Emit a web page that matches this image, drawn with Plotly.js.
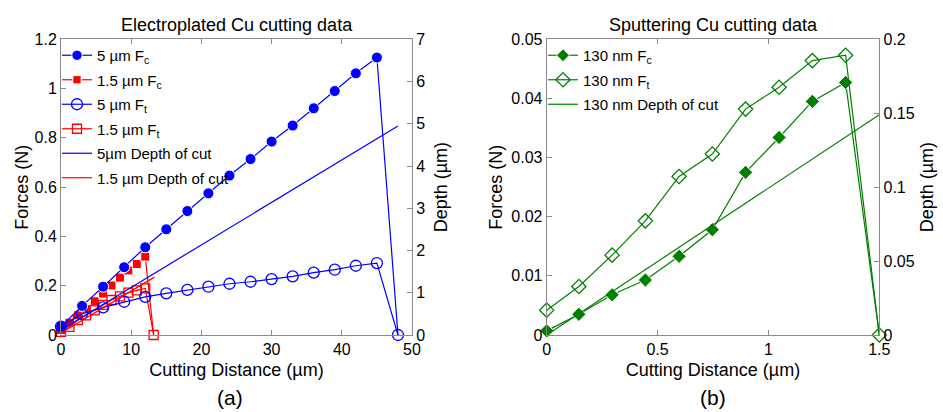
<!DOCTYPE html>
<html>
<head>
<meta charset="utf-8">
<script src="https://cdn.plot.ly/plotly-3.0.1.min.js"></script>
<style>
html,body{margin:0;padding:0;background:#fff;}
#chart{width:943px;height:412px;}
</style>
</head>
<body>
<div id="chart"></div>
<script>
// ---- (a) Electroplated Cu ----
const xE5   = [0,3,6,9,12,15,18,21,24,27,30,33,36,39,42,45,48];
const fc5   = [0.034,0.118,0.196,0.275,0.356,0.429,0.503,0.575,0.647,0.714,0.785,0.850,0.920,0.990,1.062,1.126,0];
const ft5   = [0.034,0.085,0.112,0.135,0.155,0.169,0.183,0.196,0.208,0.216,0.227,0.238,0.253,0.265,0.281,0.292,0];
const xE15  = [0,1.2,2.4,3.6,4.8,6.0,7.2,8.4,9.6,10.8,12.0,13.2];
const fc15  = [0.02,0.05,0.08,0.106,0.137,0.168,0.201,0.233,0.262,0.288,0.318,0];
const ft15  = [0.013,0.033,0.06,0.08,0.10,0.122,0.142,0.157,0.172,0.181,0.189,0];
const xD5   = [0,48];
const dep5  = [0.12,4.95];
const xD15  = [0,13.3];
const dep15 = [0.05,1.37];
// ---- (b) Sputtering Cu ----
const xS    = [0,0.145,0.295,0.445,0.597,0.747,0.897,1.048,1.198,1.348,1.5];
const fcS   = [0.0007,0.0035,0.0068,0.0093,0.0133,0.0178,0.0275,0.0334,0.0395,0.0427,0];
const ftS   = [0.0042,0.0082,0.0135,0.0193,0.0268,0.0306,0.0382,0.0419,0.0464,0.0473,0];
const xDS   = [0,1.5];
const depS  = [0,0.149];

const BLUE='#0000ff', RED='#ff0000', GREEN='#008000';
const hideLast = (arr, s) => arr.map((v,i)=> i===arr.length-1 ? 0 : s);

const traces = [
  {x:xD5, y:dep5, xaxis:'x', yaxis:'y2', name:'5µm Depth of cut', legend:'legend', legendrank:5, legendgroup:'a5',
   mode:'lines', line:{color:BLUE,width:1.2}},
  {x:xD15, y:dep15, xaxis:'x', yaxis:'y2', name:'1.5 µm Depth of cut', legend:'legend', legendrank:6, legendgroup:'a6',
   mode:'lines', line:{color:RED,width:1.2}},
  {x:xE15, y:fc15, xaxis:'x', yaxis:'y', name:'1.5 µm F<sub>c</sub>', legend:'legend', legendrank:2, legendgroup:'a2',
   mode:'lines+markers', line:{color:RED,width:1.2}, marker:{symbol:'square',size:hideLast(fc15,9),color:RED,opacity:1}, cliponaxis:false},
  {x:xE15, y:ft15, xaxis:'x', yaxis:'y', name:'1.5 µm F<sub>t</sub>', legend:'legend', legendrank:4, legendgroup:'a4',
   mode:'lines+markers', line:{color:RED,width:1.2}, marker:{symbol:'square-open',size:9,color:RED,opacity:1,line:{width:1.3}}, cliponaxis:false},
  {x:xE5, y:fc5, xaxis:'x', yaxis:'y', name:'5 µm F<sub>c</sub>', legend:'legend', legendrank:1, legendgroup:'a1',
   mode:'lines+markers', line:{color:BLUE,width:1.2}, marker:{symbol:'circle',size:hideLast(fc5,11),color:BLUE,opacity:1}, cliponaxis:false},
  {x:xE5, y:ft5, xaxis:'x', yaxis:'y', name:'5 µm F<sub>t</sub>', legend:'legend', legendrank:3, legendgroup:'a3',
   mode:'lines+markers', line:{color:BLUE,width:1.2}, marker:{symbol:'circle-open',size:11,color:BLUE,opacity:1,line:{width:1.3}}, cliponaxis:false},

  {x:xDS, y:depS, xaxis:'x2', yaxis:'y4', name:'130 nm Depth of cut', legend:'legend2', legendrank:3, legendgroup:'b3',
   mode:'lines', line:{color:GREEN,width:1.2}},
  {x:xS, y:fcS, xaxis:'x2', yaxis:'y3', name:'130 nm F<sub>c</sub>', legend:'legend2', legendrank:1, legendgroup:'b1',
   mode:'lines+markers', line:{color:GREEN,width:1.2}, marker:{symbol:'diamond',size:hideLast(fcS,11),color:GREEN,opacity:1}, cliponaxis:false},
  {x:xS, y:ftS, xaxis:'x2', yaxis:'y3', name:'130 nm F<sub>t</sub>', legend:'legend2', legendrank:2, legendgroup:'b2',
   mode:'lines+markers', line:{color:GREEN,width:1.2}, marker:{symbol:'diamond-open',size:11,color:GREEN,opacity:1,line:{width:1.3}}, cliponaxis:false}
];

const AX = '#8a8a8a';
const FONT = 'Liberation Sans, Arial, sans-serif';
function axis(extra){
  return Object.assign({
    showline:true, linecolor:AX, linewidth:1, ticks:'inside', ticklen:5, tickcolor:AX,
    showgrid:false, zeroline:false, tickfont:{size:16,color:'#000',family:FONT}, fixedrange:true
  }, extra);
}
const yDom=[1-335/412, 1-39.3/412];
const layout = {
  width:943, height:412, margin:{l:0,r:0,t:0,b:0},
  paper_bgcolor:'#fff', plot_bgcolor:'rgba(0,0,0,0)',
  font:{family:FONT,color:'#000'},
  showlegend:true,
  xaxis: axis({domain:[61/943,412/943], range:[0,50], dtick:10, anchor:'y', mirror:'ticks',
    title:{text:'Cutting Distance (µm)', font:{size:18}, standoff:6}}),
  yaxis: axis({domain:yDom, range:[0,1.2], dtick:0.2, anchor:'x',
    title:{text:'Forces (N)', font:{size:18}, standoff:1}}),
  yaxis2: axis({range:[0,7], dtick:1, overlaying:'y', side:'right', anchor:'x',
    title:{text:'Depth (µm)', font:{size:18}, standoff:10}}),
  xaxis2: axis({domain:[546.7/943,879.3/943], range:[0,1.5], dtick:0.5, anchor:'y3', mirror:'ticks',
    title:{text:'Cutting Distance (µm)', font:{size:18}, standoff:6}}),
  yaxis3: axis({domain:yDom, range:[0,0.05], dtick:0.01, anchor:'x2',
    title:{text:'Forces (N)', font:{size:18}, standoff:4}}),
  yaxis4: axis({range:[0,0.2], dtick:0.05, overlaying:'y3', side:'right', anchor:'x2',
    title:{text:'Depth (µm)', font:{size:18}, standoff:6}}),
  legend:{x:57/943, y:1-39/412, xanchor:'left', yanchor:'top', bgcolor:'rgba(0,0,0,0)',
    font:{size:15,family:FONT}, traceorder:'grouped', tracegroupgap:2, itemwidth:30},
  legend2:{x:543/943, y:1-39/412, xanchor:'left', yanchor:'top', bgcolor:'rgba(0,0,0,0)',
    font:{size:15,family:FONT}, traceorder:'grouped', tracegroupgap:2, itemwidth:30},
  annotations:[
    {text:'Electroplated Cu cutting data', xref:'paper', yref:'paper', x:236.5/943, y:1-25/412,
     showarrow:false, xanchor:'center', yanchor:'middle', font:{size:18}},
    {text:'Sputtering Cu cutting data', xref:'paper', yref:'paper', x:713/943, y:1-25/412,
     showarrow:false, xanchor:'center', yanchor:'middle', font:{size:18}},
    {text:'(a)', xref:'paper', yref:'paper', x:230/943, y:1-397/412,
     showarrow:false, xanchor:'center', yanchor:'middle', font:{size:21}},
    {text:'(b)', xref:'paper', yref:'paper', x:713/943, y:1-397/412,
     showarrow:false, xanchor:'center', yanchor:'middle', font:{size:21}}
  ]
};
Plotly.newPlot('chart', traces, layout, {staticPlot:true, displayModeBar:false});
</script>
</body>
</html>
